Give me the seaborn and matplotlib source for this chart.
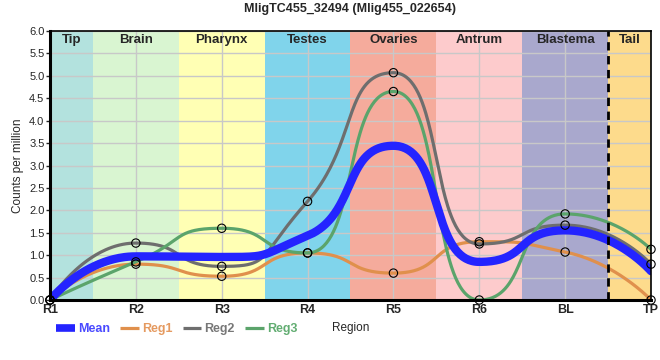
"""
Regional expression profile for one transcript.

"""
import numpy as np
import pandas as pd
import matplotlib
matplotlib.use('Agg')
import matplotlib.pyplot as plt
from matplotlib.lines import Line2D
import seaborn as sns

TITLE = 'MligTC455_32494 (Mlig455_022654)'

positions = ['R1', 'R2', 'R3', 'R4', 'R5', 'R6', 'BL', 'TP']
reg1 = [0.0, 0.80, 0.53, 1.05, 0.60, 1.30, 1.07, 0.0]
reg2 = [0.0, 1.27, 0.75, 2.20, 5.07, 1.25, 1.67, 0.80]
reg3 = [0.0, 0.85, 1.60, 1.05, 4.65, 0.0, 1.92, 1.13]

regions = ['Tip', 'Brain', 'Pharynx', 'Testes', 'Ovaries', 'Antrum', 'Blastema', 'Tail']
region_edges = [0, 0.5, 1.5, 2.5, 3.5, 4.5, 5.5, 6.5, 7]
region_colours = ['#b3e2de', '#d9f5d1', '#ffffb4', '#80d4eb', '#f5ab9c',
                  '#fdcbcc', '#a9a8cd', '#fddb8c']

series_colours = {'Mean': '#2424ff', 'Reg1': '#e0904c',
                  'Reg2': '#6e6e6e', 'Reg3': '#5ba46b'}
text_colours = {'Mean': '#4a4aff', 'Reg1': '#e59a60',
                'Reg2': '#777777', 'Reg3': '#62ad72'}


def spline(x, y, sm=0.7, steps=80):
    """
    Bezier spline through the points, horizontal at local extremes
    (display smoothing only, every curve passes through the data).
    """
    x = list(map(float, x))
    y = list(map(float, y))
    n = len(x)
    left = [None] * n
    right = [None] * n
    for i in range(1, n - 1):
        lx = (sm * x[i] + x[i - 1]) / (sm + 1)
        ly = (sm * y[i] + y[i - 1]) / (sm + 1)
        rx = (sm * x[i] + x[i + 1]) / (sm + 1)
        ry = (sm * y[i] + y[i + 1]) / (sm + 1)
        corr = (ry - ly) * (rx - x[i]) / (rx - lx) + y[i] - ry
        ly += corr
        ry += corr
        if ly > y[i - 1] and ly > y[i]:
            ly = max(y[i - 1], y[i])
            ry = 2 * y[i] - ly
        elif ly < y[i - 1] and ly < y[i]:
            ly = min(y[i - 1], y[i])
            ry = 2 * y[i] - ly
        if ry > y[i + 1] and ry > y[i]:
            ry = max(y[i + 1], y[i])
            ly = 2 * y[i] - ry
        elif ry < y[i + 1] and ry < y[i]:
            ry = min(y[i + 1], y[i])
            ly = 2 * y[i] - ry
        left[i] = (lx, ly)
        right[i] = (rx, ry)

    t = np.linspace(0, 1, steps)
    xs, ys = [], []
    for i in range(1, n):
        p0 = (x[i - 1], y[i - 1])
        p1 = right[i - 1] or p0
        p3 = (x[i], y[i])
        p2 = left[i] or p3
        b = [(1 - t)**3, 3 * (1 - t)**2 * t, 3 * (1 - t) * t**2, t**3]
        xs.append(b[0] * p0[0] + b[1] * p1[0] + b[2] * p2[0] + b[3] * p3[0])
        ys.append(b[0] * p0[1] + b[1] * p1[1] + b[2] * p2[1] + b[3] * p3[1])
    return np.concatenate(xs), np.concatenate(ys)


points = pd.DataFrame({'Position': positions, 'Reg1': reg1, 'Reg2': reg2, 'Reg3': reg3})
points['Mean'] = points[['Reg1', 'Reg2', 'Reg3']].mean(axis=1)
points['x'] = np.arange(len(positions))

curves = []
for name in ['Reg1', 'Reg2', 'Reg3', 'Mean']:
    cx, cy = spline(points['x'], points[name])
    curves.append(pd.DataFrame({'x': cx, 'value': cy, 'series': name}))
curves = pd.concat(curves)

markers = points.melt(id_vars=['x'], value_vars=['Reg1', 'Reg2', 'Reg3'],
                      var_name='series', value_name='value')

sns.set_style('white')
plt.rcParams['font.family'] = ['Liberation Sans', 'DejaVu Sans']

fig = plt.figure(figsize=(6.6, 3.6), dpi=100)
ax = fig.add_axes([50 / 660, 60 / 360, 601 / 660, 269 / 360])

for i, name in enumerate(regions):
    ax.axvspan(region_edges[i], region_edges[i + 1], color=region_colours[i], lw=0, zorder=0)
    ax.text((region_edges[i] + region_edges[i + 1]) / 2, 5.93, name, ha='center', va='top',
            fontsize=9.5, fontweight='bold', zorder=5)

ax.set_yticks(np.arange(0, 6.01, 0.5))
ax.grid(True, color='#c8c8c8', lw=1)
for gl in ax.get_xgridlines() + ax.get_ygridlines():
    gl.set_zorder(1)

widths = {'Reg1': 2.3, 'Reg2': 2.3, 'Reg3': 2.3, 'Mean': 6}
for name in ['Mean', 'Reg1', 'Reg2', 'Reg3']:
    sns.lineplot(data=curves[curves['series'] == name], x='x', y='value',
                 color=series_colours[name], lw=widths[name], ax=ax, sort=False,
                 estimator=None, legend=False, zorder=3 if name == 'Mean' else 2)

ax.axvline(6.5, color='black', lw=2, ls=(0, (3, 2)), zorder=4)

sns.scatterplot(data=markers, x='x', y='value', s=36, facecolor='none',
                edgecolor='black', linewidth=0.8, ax=ax, legend=False, zorder=6,
                clip_on=False)

ax.set_xlim(0, 7)
ax.set_ylim(0, 6)
ax.set_xticks(points['x'])
ax.set_xticklabels(positions, fontsize=9, fontweight='bold')
ax.tick_params(axis='y', labelsize=8, length=3, width=1, left=True, pad=1)
ax.tick_params(axis='x', length=0, pad=3)
for side in ['left', 'bottom']:
    ax.spines[side].set_linewidth(2.2)
for side in ['right', 'top']:
    ax.spines[side].set_linewidth(1.2)
for s in ax.spines.values():
    s.set_color('black')
    s.set_zorder(7)

ax.set_ylabel('Counts per million', fontsize=8.5)
ax.set_xlabel('Region', fontsize=8.5)
ax.xaxis.set_label_coords(0.5, -28 / 269, transform=ax.transAxes)
ax.xaxis.label.set_va('center')
ax.set_title(TITLE, fontsize=9, fontweight='bold', pad=14)

handles = [Line2D([0], [0], color=series_colours[n], lw=5.5 if n == 'Mean' else 2.3,
                  solid_capstyle='butt')
           for n in ['Mean', 'Reg1', 'Reg2', 'Reg3']]
leg = fig.legend(handles, ['Mean', 'Reg1', 'Reg2', 'Reg3'], ncol=4, frameon=False,
                 loc='center left', bbox_to_anchor=(45 / 660, 1 - 329 / 360),
                 handlelength=1.5, handletextpad=0.25, columnspacing=0.8,
                 prop={'size': 9, 'weight': 'bold'})
for text, n in zip(leg.get_texts(), ['Mean', 'Reg1', 'Reg2', 'Reg3']):
    text.set_color(text_colours[n])

fig.savefig('out.png', dpi=100)
